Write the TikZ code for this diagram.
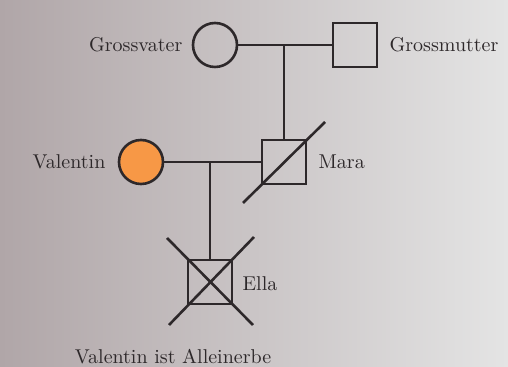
\documentclass[tikz,border=0pt]{standalone}
\usetikzlibrary{positioning,calc}
\definecolor{ink}{RGB}{45,40,42}
\definecolor{paperdark}{RGB}{176,166,168}
\definecolor{paperlight}{RGB}{228,228,228}
\definecolor{carrier}{RGB}{247,152,70}
\begin{document}
\begin{tikzpicture}[x=0.5pt,y=-0.5pt,line width=1.3pt,draw=ink,
    circ/.style={draw=ink,circle,minimum size=22pt,inner sep=0pt},
    sqr/.style={draw=ink,rectangle,minimum size=22pt,inner sep=0pt},
    lbl/.style={inner sep=0pt,text=ink,font=\normalsize}]
  % paper
  \shade[left color=paperdark,right color=paperlight] (0,0) rectangle (508,367);
  \useasboundingbox (0,0) rectangle (508,367);
  % grandparents
  \node[circ] (gv) at (215,45) {};
  \node[sqr] (gm) at (355,45) {};
  \node[lbl,left=4pt of gv] (gvname) {Grossvater};
  \node[lbl,right=5pt of gm] (gmname) {Grossmutter};
  % parents
  \node[circ,fill=carrier] (val) at (141,162) {};
  \node[sqr] (mara) at (284,162) {};
  \node[lbl,left=5.5pt of val] (valname) {Valentin};
  \node[lbl,right=5pt of mara] (maraname) {Mara};
  % child
  \node[sqr] (ella) at (210,282) {};
  \node[lbl,right=4pt of ella,yshift=-1pt] (ellaname) {Ella};
  \node[lbl] (note) at (173,357) {Valentin ist Alleinerbe};
  % lines
  \draw (gv) -- (gm);
  \draw (mara.north) -- (mara.north |- gv.east);
  \draw (val) -- (mara);
  \draw (ella.north) -- (ella.north |- val.east);
  % deceased
  \draw ($(mara)+(-41,41)$) -- ($(mara)+(41,-40)$);
  \draw ($(ella)+(-43,-44)$) -- ($(ella)+(43,43)$);
  \draw ($(ella)+(-41,43)$) -- ($(ella)+(44,-45)$);
\end{tikzpicture}
\end{document}
